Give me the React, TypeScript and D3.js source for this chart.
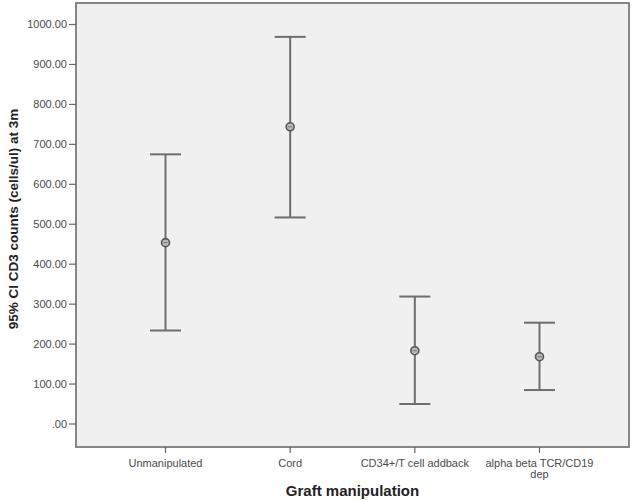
import React from "react";
import * as d3 from "d3";

const categories = ["Unmanipulated", "Cord", "CD34+/T cell addback", "alpha beta TCR/CD19 dep"];
const categoryLines = [["Unmanipulated"], ["Cord"], ["CD34+/T cell addback"], ["alpha beta TCR/CD19", "dep"]];
const means = [454, 744, 183.5, 168.5];
const upper = [675, 969, 319, 253.6];
const lower = [234, 517, 50, 85];
const yTickValues = [0, 100, 200, 300, 400, 500, 600, 700, 800, 900, 1000];
const yTickLabels = [".00", "100.00", "200.00", "300.00", "400.00", "500.00", "600.00", "700.00", "800.00", "900.00", "1000.00"];

const W = 633;
const H = 500;
const frame = { left: 76, right: 629, top: 3, bottom: 447 };
const FONT = "'Liberation Sans', Arial, sans-serif";

export default function App() {
  const x = d3
    .scalePoint<string>()
    .domain(categories)
    .range([frame.left, frame.right])
    .padding(0.718);
  const y = d3.scaleLinear().domain([0, 1000]).range([424, 24.5]);
  const capHalf = 15.5;
  const lineColor = "#6e6e6e";

  return (
    <svg width={W} height={H} style={{ position: "absolute", left: 0, top: 0, background: "#fff" }}>
      <rect
        x={frame.left}
        y={frame.top}
        width={frame.right - frame.left}
        height={frame.bottom - frame.top}
        fill="#f0f0f0"
        stroke="#7a7a7a"
        strokeWidth={1.8}
      />
      {/* y axis ticks */}
      {yTickValues.map((v, i) => (
        <g key={"yt" + i}>
          <line x1={frame.left - 7} x2={frame.left} y1={y(v)} y2={y(v)} stroke="#666" strokeWidth={1.2} />
          <text
            x={frame.left - 9}
            y={y(v)}
            dy="0.35em"
            textAnchor="end"
            fontFamily={FONT}
            fontSize={11}
            fill="#4a4a4a"
          >
            {yTickLabels[i]}
          </text>
        </g>
      ))}
      {/* x axis ticks */}
      {categories.map((c, i) => (
        <g key={"xt" + i}>
          <line x1={x(c)!} x2={x(c)!} y1={frame.bottom} y2={frame.bottom + 6} stroke="#666" strokeWidth={1.2} />
          <text textAnchor="middle" fontFamily={FONT} fontSize={11} fill="#4a4a4a">
            {categoryLines[i].map((ln, j) => (
              <tspan key={j} x={x(c)!} y={466.5 + j * 11}>
                {ln}
              </tspan>
            ))}
          </text>
        </g>
      ))}
      {/* error bars */}
      {categories.map((c, i) => {
        const cx = x(c)!;
        return (
          <g key={"eb" + i}>
            <line x1={cx} x2={cx} y1={y(upper[i])} y2={y(lower[i])} stroke={lineColor} strokeWidth={2} />
            <line x1={cx - capHalf} x2={cx + capHalf} y1={y(upper[i])} y2={y(upper[i])} stroke={lineColor} strokeWidth={2} />
            <line x1={cx - capHalf} x2={cx + capHalf} y1={y(lower[i])} y2={y(lower[i])} stroke={lineColor} strokeWidth={2} />
            <circle cx={cx} cy={y(means[i])} r={4} fill="#b8b8b8" stroke="#555" strokeWidth={1.6} />
            <line x1={cx - 2} x2={cx + 2} y1={y(means[i])} y2={y(means[i])} stroke="#777" strokeWidth={1} />
          </g>
        );
      })}
      {/* axis titles */}
      <text
        x={(frame.left + frame.right) / 2}
        y={496}
        textAnchor="middle"
        fontFamily={FONT}
        fontSize={15}
        fontWeight="bold"
        fill="#222"
      >
        Graft manipulation
      </text>
      <text
        transform={`translate(18, 219) rotate(-90)`}
        textAnchor="middle"
        fontFamily={FONT}
        fontSize={13.5}
        fontWeight="bold"
        fill="#222"
      >
        95% CI CD3 counts (cells/ul) at 3m
      </text>
    </svg>
  );
}
